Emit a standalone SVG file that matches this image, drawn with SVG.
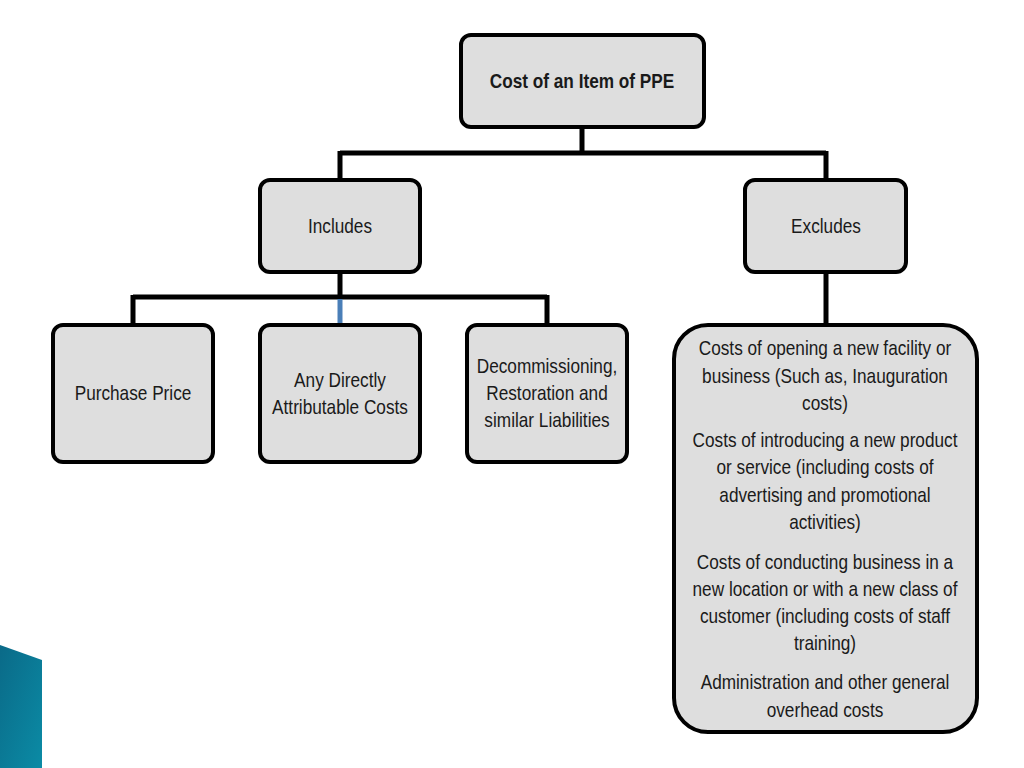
<svg xmlns="http://www.w3.org/2000/svg" width="1024" height="768" viewBox="0 0 1024 768">
<style>
.box{fill:#dedede;stroke:#000;stroke-width:4}
.t{font-family:"Liberation Sans",Arial,sans-serif;font-size:21px;fill:#1a1a1a;text-anchor:middle}
.b{font-weight:bold}
.c{fill:none;stroke:#000;stroke-width:5}
</style>
<defs>
<linearGradient id="teal" x1="0" y1="0" x2="1" y2="1">
<stop offset="0" stop-color="#0a6a88"/>
<stop offset="1" stop-color="#0b8ba5"/>
</linearGradient>
</defs>
<rect width="1024" height="768" fill="#fff"/>
<polygon points="0,645 42,660 42,768 0,768" fill="url(#teal)"/>
<g id="connectors">
<path class="c" d="M582,127 V153 M340,153 H826 M340,151 V180 M826,151 V180"/>
<path class="c" d="M340,272 V297 M133,297 H547 M133,295 V325 M547,295 V325"/>
<path d="M340,299 V325" stroke="#4a7fb8" stroke-width="5" fill="none"/>
<path class="c" d="M826,272 V325"/>
</g>
<g id="root"><rect class="box" x="461" y="35" width="243" height="92" rx="10"/><g transform="translate(582 0) scale(0.82 1)"><text class="t b" x="0" y="88">Cost of an Item of PPE</text></g></g>
<g id="includes"><rect class="box" x="260" y="180" width="160" height="92" rx="10"/><g transform="translate(340 0) scale(0.82 1)"><text class="t" x="0" y="233">Includes</text></g></g>
<g id="excludes"><rect class="box" x="745" y="180" width="161" height="92" rx="10"/><g transform="translate(826 0) scale(0.82 1)"><text class="t" x="0" y="233">Excludes</text></g></g>
<g id="purchase"><rect class="box" x="53" y="325" width="160" height="137" rx="10"/><g transform="translate(133 0) scale(0.82 1)"><text class="t" x="0" y="400">Purchase Price</text></g></g>
<g id="direct"><rect class="box" x="260" y="325" width="160" height="137" rx="10"/><g transform="translate(340 0) scale(0.82 1)"><text class="t" x="0" y="387">Any Directly</text><text class="t" x="0" y="414">Attributable Costs</text></g></g>
<g id="decom"><rect class="box" x="467" y="325" width="160" height="137" rx="10"/><g transform="translate(547 0) scale(0.82 1)"><text class="t" x="0" y="373">Decommissioning,</text><text class="t" x="0" y="400">Restoration and</text><text class="t" x="0" y="427">similar Liabilities</text></g></g>
<g id="excl-list"><rect class="box" x="674" y="325" width="303" height="407" rx="34"/>
<g transform="translate(825 0) scale(0.82 1)">
<text class="t" x="0" y="355">Costs of opening a new facility or</text>
<text class="t" x="0" y="383">business (Such as, Inauguration</text>
<text class="t" x="0" y="410">costs)</text>
<text class="t" x="0" y="447">Costs of introducing a new product</text>
<text class="t" x="0" y="474">or service (including costs of</text>
<text class="t" x="0" y="502">advertising and promotional</text>
<text class="t" x="0" y="529">activities)</text>
<text class="t" x="0" y="569">Costs of conducting business in a</text>
<text class="t" x="0" y="596">new location or with a new class of</text>
<text class="t" x="0" y="623">customer (including costs of staff</text>
<text class="t" x="0" y="650">training)</text>
<text class="t" x="0" y="689">Administration and other general</text>
<text class="t" x="0" y="717">overhead costs</text>
</g>
</g>
</svg>
